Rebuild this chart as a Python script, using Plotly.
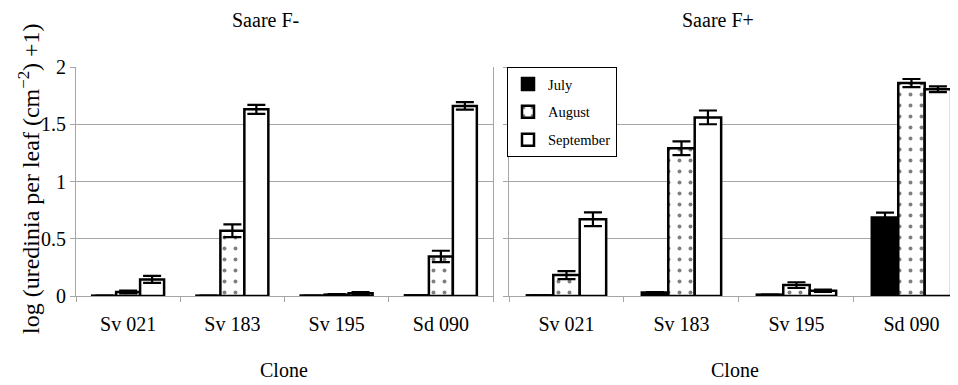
import plotly.graph_objects as go

clones = ["Sv 021", "Sv 183", "Sv 195", "Sd 090"]
months = ["July", "August", "September"]

# Saare F-  (left panel)
fminus_july = [0.003, 0.003, 0.004, 0.006]
fminus_aug = [0.035, 0.57, 0.012, 0.345]
fminus_sep = [0.145, 1.63, 0.025, 1.66]
fminus_july_err = [0.0, 0.0, 0.0, 0.0]
fminus_aug_err = [0.012, 0.055, 0.004, 0.05]
fminus_sep_err = [0.03, 0.04, 0.008, 0.033]

# Saare F+  (right panel)
fplus_july = [0.006, 0.03, 0.012, 0.685]
fplus_aug = [0.183, 1.29, 0.095, 1.86]
fplus_sep = [0.67, 1.56, 0.045, 1.805]
fplus_july_err = [0.0, 0.004, 0.0, 0.044]
fplus_aug_err = [0.035, 0.06, 0.025, 0.035]
fplus_sep_err = [0.06, 0.06, 0.01, 0.025]

FONT = "Liberation Serif, Times New Roman, Times, DejaVu Serif, serif"
GRID = "#a6a6a6"

OFF = 8  # page body margin in the browser
W, H = 958 - OFF, 385 - OFF
ML, MR, MT, MB = 76 - OFF, 1, 67 - OFF, 89
PW = W - ML - MR
PH = H - MT - MB


def px_x(x):
    return (x - OFF - ML) / PW


def px_y(y):
    return (H - MB - (y - OFF)) / PH


styles = {
    "July": dict(color="black", pattern=None),
    "August": dict(color="white", pattern=dict(shape=".", fgcolor="black", bgcolor="white", size=11, solidity=0.1)),
    "September": dict(color="white", pattern=None),
}

fig = go.Figure()

panels = [
    ("x", "y", [fminus_july, fminus_aug, fminus_sep], [fminus_july_err, fminus_aug_err, fminus_sep_err], True),
    ("x2", "y2", [fplus_july, fplus_aug, fplus_sep], [fplus_july_err, fplus_aug_err, fplus_sep_err], False),
]

for xa, ya, vals, errs, first in panels:
    for m, v, e in zip(months, vals, errs):
        st = styles[m]
        marker = dict(color=st["color"], line=dict(color="black", width=2.5))
        if st["pattern"]:
            marker["pattern"] = st["pattern"]
        fig.add_trace(go.Bar(
            x=clones, y=v, name=m, xaxis=xa, yaxis=ya,
            marker=marker, showlegend=not first, legendgroup=m,
            error_y=dict(type="data", array=e, color="black", thickness=2.2, width=9, visible=True),
        ))

axis_common = dict(
    showline=True, linecolor=GRID, linewidth=1,
    ticks="outside", ticklen=5, tickcolor=GRID, tickwidth=1,
    tickfont=dict(family=FONT, size=20, color="black"),
)

fig.update_layout(
    width=W, height=H,
    margin=dict(l=ML, r=MR, t=MT, b=MB),
    paper_bgcolor="white", plot_bgcolor="white",
    barmode="group", bargap=0.31, bargroupgap=0,
    font=dict(family=FONT, color="black"),
    xaxis=dict(domain=[0, px_x(493)], type="category", range=[-0.5, 3.5],
               tickson="boundaries", ticklabelstandoff=10, **axis_common),
    xaxis2=dict(domain=[px_x(509), 1], type="category", range=[-0.5, 3.396],
                tickson="boundaries", ticklabelstandoff=10, anchor="y2", **axis_common),
    yaxis=dict(domain=[0, 1], range=[0, 2], dtick=0.5, showgrid=True, gridcolor=GRID,
               gridwidth=1, mirror=True, zeroline=False, **axis_common),
    yaxis2=dict(domain=[0, 1], range=[0, 2], dtick=0.5, showgrid=True, gridcolor=GRID,
                gridwidth=1, showticklabels=False, zeroline=False, anchor="x2", **axis_common),
    legend=dict(x=px_x(507), y=px_y(67), xanchor="left", yanchor="top",
                bgcolor="white", bordercolor="black", borderwidth=1,
                font=dict(family=FONT, size=14.5, color="black"),
                itemwidth=30, traceorder="grouped", tracegroupgap=6),
    showlegend=True,
)

annotations = [
    dict(text="Saare F-", x=px_x(265), y=px_y(20)),
    dict(text="Saare F+", x=px_x(718), y=px_y(20)),
    dict(text="Clone", x=px_x(284), y=px_y(370)),
    dict(text="Clone", x=px_x(735), y=px_y(370)),
]
for a in annotations:
    fig.add_annotation(xref="paper", yref="paper", showarrow=False,
                       xanchor="center", yanchor="middle",
                       font=dict(family=FONT, size=20, color="black"), **a)

fig.add_annotation(xref="paper", yref="paper", showarrow=False,
                   text="log (uredinia per leaf (cm<sup>\u22122</sup>) +1)",
                   x=px_x(29), y=px_y(179), textangle=-90,
                   xanchor="center", yanchor="middle",
                   font=dict(family=FONT, size=24, color="black"))

fig.write_html("out.html")
